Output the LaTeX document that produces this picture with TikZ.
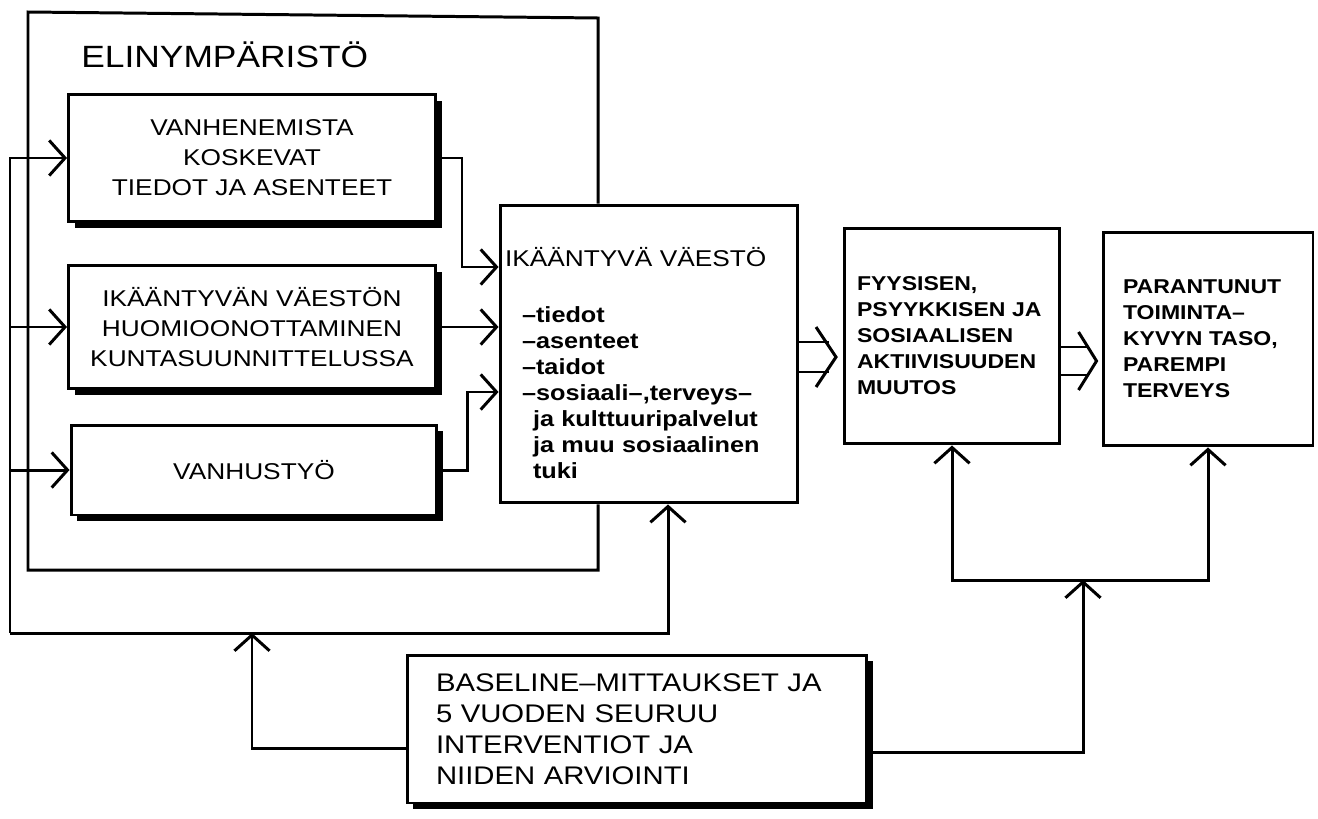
\documentclass[tikz,border=0pt]{standalone}
\usepackage{fontspec}
\setmainfont{Liberation Sans}[FakeStretch=1.15]
\usetikzlibrary{arrows.meta,shadows,calc}
\tikzset{block/.style = {draw, rectangle, fill=white, inner sep=0pt},
         sblock/.style = {block, drop shadow={shadow xshift=3.5pt, shadow yshift=-3.5pt, fill=black, opacity=1}},
         ctxt/.style = {align=center, font=\fontsize{13}{17}\selectfont},
         rtxt/.style = {align=left, font=\bfseries\fontsize{11.4}{14.8}\selectfont},
}

\begin{document}
\begin{tikzpicture}[x=0.02cm, y=-0.02cm, line width=1.7pt, >={Straight Barb[length=9pt,width=20pt]}]
  \useasboundingbox (0,0) rectangle (1318,818);

  \node[anchor=base west, font=\fontsize{17.5}{20}\selectfont] (elin) at (74,67) {ELINYMPÄRISTÖ};
  \node[sblock, ctxt, minimum width=7.34cm, minimum height=2.54cm] (vanh) at (252,158) {VANHENEMISTA\\KOSKEVAT\\TIEDOT JA ASENTEET};
  \node[sblock, ctxt, minimum width=7.34cm, minimum height=2.46cm] (huom) at (252,327) {IKÄÄNTYVÄN VÄESTÖN\\HUOMIOONOTTAMINEN\\KUNTASUUNNITTELUSSA};
  \node[sblock, ctxt, minimum width=7.32cm, minimum height=1.8cm] (tyo) at (254,470) {VANHUSTYÖ};
  \node[block, align=left, text width=5.76cm, inner xsep=0.1cm, minimum height=5.96cm, font=\bfseries\fontsize{12.5}{14.8}\selectfont] (ika) at (649,354)
    {\rule{0pt}{21pt}{\mdseries\fontsize{13}{17}\selectfont IKÄÄNTYVÄ VÄESTÖ}\\[17pt]
      \hspace*{0.34cm}--tiedot\\
      \hspace*{0.34cm}--asenteet\\
      \hspace*{0.34cm}--taidot\\
      \hspace*{0.34cm}--sosiaali--,terveys--\\
      \hspace*{0.56cm}ja kulttuuripalvelut\\
      \hspace*{0.56cm}ja muu sosiaalinen\\
      \hspace*{0.56cm}tuki};
  \node[block, rtxt, text width=3.8cm, inner xsep=0.25cm, minimum height=4.32cm] (fyy) at (952,336)
    {FYYSISEN,\\PSYYKKISEN JA\\SOSIAALISEN\\AKTIIVISUUDEN\\MUUTOS};
  \node[block, rtxt, text width=3.4cm, inner xsep=0.4cm, minimum height=4.28cm] (par) at (1208,339)
    {PARANTUNUT\\TOIMINTA--\\KYVYN TASO,\\PAREMPI\\TERVEYS};
  \node[sblock, align=left, text width=8.04cm, inner xsep=0.58cm, minimum height=2.96cm, font=\fontsize{14.5}{17.6}\selectfont] (base) at (637,729)
    {BASELINE--MITTAUKSET JA\\5 VUODEN SEURUU\\INTERVENTIOT JA\\NIIDEN ARVIOINTI};

  % elinymparisto frame
  \draw (ika.north -| 598,0) -- (598,18) -- (28,12) -- (28,570) -- (598,570) -- (ika.south -| 598,0);

  % feedback loop
  \coordinate (lp) at (10,633);
  \coordinate (lj) at (252,633);
  \draw[->] (lp) |- (vanh.west);
  \draw[->] (lp |- huom.west) -- (huom.west);
  \draw[->] (lp |- tyo.west) -- (tyo.west);
  \draw[->] (lp) -| (ika.south -| 668,0);
  \draw[->] (base.west |- 0,748) -| (lj);

  \draw[->] (vanh.east) -| (462,267) -- (ika.west |- 0,267);
  \draw[->] (huom.east) -- (ika.west |- huom.east);
  \draw[->] (tyo.east) -| (467,392) -- (ika.west |- 0,392);

  % double arrows
  \path (fyy.west) ++(-7,21) coordinate (k1);
  \draw (ika.east |- k1) ++(0,-15) -- ++(30,0) ++(-30,30) -- ++(30,0);
  \draw (k1) ++(-20,-30) -- (k1) -- ++(-20,30);
  \path (par.west) ++(-5,22) coordinate (k2);
  \draw (fyy.east |- k2) ++(0,-14) -- ++(28,0) ++(-28,28) -- ++(28,0);
  \draw (k2) ++(-18,-29) -- (k2) -- ++(-18,29);

  \coordinate (jn) at (1083,580);
  \draw[->] (jn) -| (fyy.south);
  \draw[->] (jn) -| (par.south);
  \draw[->] (base.east |- 0,752) -| (jn);

\end{tikzpicture}
\end{document}
